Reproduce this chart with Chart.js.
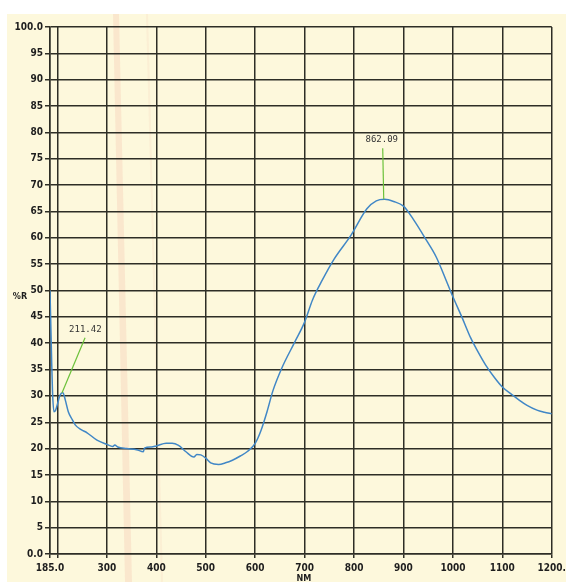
<!DOCTYPE html>
<html>
<head>
<meta charset="utf-8">
<script src="https://cdn.jsdelivr.net/npm/chart.js@4.4.1/dist/chart.umd.min.js"></script>
<style>
html,body{margin:0;padding:0;background:#ffffff;}
#wrap{position:relative;width:570px;height:587px;}
</style>
</head>
<body>
<div id="wrap"><canvas id="spectrum" width="570" height="587"></canvas></div>
<script>

const wavelengths = [185,188,190,193,196,200,204,208,211,216,222,230,236,248,260,280,300,312,316,322,340,360,374,376,390,400,420,432,445,460,476,482,490,500,510,526,540,554,570,585,600,612,624,636,654,680,700,716,736,760,794,826,845,862,880,900,920,946,966,986,1000,1018,1036,1050,1066,1084,1100,1120,1134,1150,1170,1185,1200];

const reflectance = [50,38,31,27,27.2,28.4,29.8,30.5,30.6,29.2,27,25.5,24.5,23.6,23,21.6,20.8,20.4,20.7,20.3,20,19.8,19.4,20.1,20.3,20.5,21,21,20.6,19.4,18.4,18.9,18.8,18.2,17.3,17,17.3,17.8,18.6,19.5,21,23.5,27,31,35.3,40.2,44,48.2,52,56,60.5,65.5,67,67.3,66.9,66,63.5,59.6,56.4,52,48.8,45,41,38.5,35.9,33.5,31.7,30.2,29.2,28.2,27.3,26.9,26.6];

const xTicks = [185,200,300,400,500,600,700,800,900,1000,1100,1200];
const xTickLabels = ["185.0","","300","400","500","600","700","800","900","1000","1100","1200."];

const peakLabels = ["211.42","862.09"];
const peakX = [211.42,862.09];
const peakY = [30.6,67.3];


const paperPlugin = {
id:"paper",
beforeDraw(chart){
const ctx = chart.ctx;
ctx.save();
ctx.fillStyle = "#ffffff";
ctx.fillRect(0,0,chart.width,chart.height);
ctx.fillStyle = "#fdf8dc";
ctx.fillRect(7,14,559,568);

/* scan streaks */
ctx.fillStyle = "rgba(240,175,155,0.22)";
ctx.beginPath();
ctx.moveTo(113,14);
ctx.lineTo(119,14);
ctx.lineTo(132,582);
ctx.lineTo(125,582);
ctx.closePath();
ctx.fill();

ctx.fillStyle = "rgba(240,185,165,0.15)";
ctx.beginPath();
ctx.moveTo(146,14);
ctx.lineTo(148,14);
ctx.lineTo(163,582);
ctx.lineTo(161,582);
ctx.closePath();
ctx.fill();
ctx.restore();
}
};


const notePlugin = {
id:"notes",
afterDraw(chart){
const ctx = chart.ctx;
const xs = chart.scales.x;
const ys = chart.scales.y;

ctx.save();

/* peak markers */
ctx.strokeStyle = "#6cc13a";
ctx.lineWidth = 1.2;
ctx.font = "9px 'DejaVu Sans Mono', 'Liberation Mono', monospace";
ctx.fillStyle = "#333333";
ctx.textBaseline = "middle";

const px0 = xs.getPixelForValue(peakX[0]);
const py0 = ys.getPixelForValue(peakY[0]);
ctx.beginPath();
ctx.moveTo(px0 - 1, py0);
ctx.lineTo(px0 + 22, py0 - 55);
ctx.stroke();
ctx.textAlign = "left";
ctx.fillText(peakLabels[0], px0 + 6, py0 - 63);

const px1 = xs.getPixelForValue(peakX[1]);
const py1 = ys.getPixelForValue(peakY[1]);
ctx.beginPath();
ctx.moveTo(px1 - 1, py1);
ctx.lineTo(px1 - 2, py1 - 51);
ctx.stroke();
ctx.textAlign = "center";
ctx.fillText(peakLabels[1], px1 - 3, py1 - 60);

/* axis names */
ctx.fillStyle = "#1e1e1e";
ctx.font = "bold 9px 'DejaVu Sans Condensed', Arial, sans-serif";
ctx.textAlign = "center";
ctx.fillText("%R", 20, 297);
ctx.fillText("NM", 304, 579);

ctx.restore();
}
};


function renderSpectrum(){

const ctx = document.getElementById("spectrum").getContext("2d");

const points = wavelengths.map((w,i) => ({x:w, y:reflectance[i]}));

new Chart(ctx,{

type:"line",

data:{
datasets:[{
data:points,
borderColor:"#4187c6",
borderWidth:1.5,
pointRadius:0,
cubicInterpolationMode:"monotone",
fill:false
}]
},

options:{
responsive:false,
animation:false,
layout:{
padding:{top:27,right:10,left:0,bottom:0}
},
plugins:{
legend:{display:false},
tooltip:{enabled:false}
},
scales:{
x:{
type:"linear",
min:185,
max:1200,
afterBuildTicks(scale){
scale.ticks = xTicks.map(v => ({value:v}));
},
afterFit(scale){
scale.height = 33;
},
ticks:{
autoSkip:false,
maxRotation:0,
padding:4,
color:"#1e1e1e",
font:{family:"'DejaVu Sans Condensed', Arial, sans-serif", size:10, weight:"bold"},
callback:(v) => {
const i = xTicks.indexOf(v);
return i >= 0 ? xTickLabels[i] : "";
}
},
grid:{
color:"#2e2e26",
lineWidth:1.5,
tickLength:4
},
border:{color:"#2e2e26", width:1.5}
},
y:{
min:0,
max:100,
afterFit(scale){
scale.width = 50;
},
ticks:{
stepSize:5,
padding:2,
color:"#1e1e1e",
font:{family:"'DejaVu Sans Condensed', Arial, sans-serif", size:10, weight:"bold"},
callback:(v) => v === 0 ? "0.0" : (v === 100 ? "100.0" : String(v))
},
grid:{
color:"#2e2e26",
lineWidth:1.5,
tickLength:5
},
border:{color:"#2e2e26", width:1.5}
}
}
},

plugins:[paperPlugin, notePlugin]

});

}


renderSpectrum();
</script>
</body>
</html>
